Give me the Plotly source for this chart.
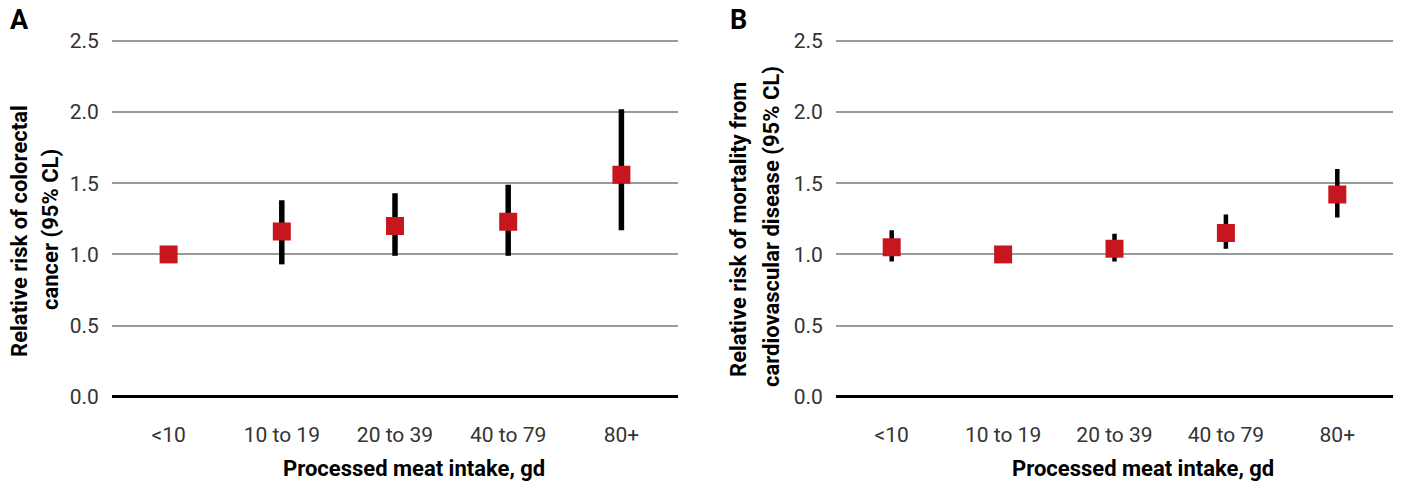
import plotly.graph_objects as go

categories = ["<10", "10 to 19", "20 to 39", "40 to 79", "80+"]

# Panel A: colorectal cancer
crc_rr = [1.00, 1.16, 1.20, 1.23, 1.56]
crc_lo = [1.00, 0.93, 0.99, 0.99, 1.17]
crc_hi = [1.00, 1.38, 1.43, 1.49, 2.02]

# Panel B: cardiovascular mortality
cvd_rr = [1.05, 1.00, 1.04, 1.15, 1.42]
cvd_lo = [0.95, 1.00, 0.95, 1.04, 1.26]
cvd_hi = [1.17, 1.00, 1.145, 1.28, 1.60]

y_ticks = [0.0, 0.5, 1.0, 1.5, 2.0, 2.5]
y_ticktext = ["0.0", "0.5", "1.0", "1.5", "2.0", "2.5"]

W, H = 1406, 490
RED = "#c8161e"
TICKFONT = "Roboto, sans-serif"
BOLDFONT = "Roboto, sans-serif"

fig = go.Figure()

def add_panel(rr, lo, hi, xa, ya, thick):
    plus = [h - r for h, r in zip(hi, rr)]
    minus = [r - l for r, l in zip(rr, lo)]
    fig.add_trace(go.Scatter(
        x=categories, y=rr, mode="markers", xaxis=xa, yaxis=ya,
        marker=dict(symbol="square", size=18, color=RED, line=dict(width=0)),
        error_y=dict(type="data", array=plus, arrayminus=minus, symmetric=False,
                     color="black", thickness=thick, width=0),
        showlegend=False, hoverinfo="skip"))

add_panel(crc_rr, crc_lo, crc_hi, "x", "y", 5.5)
add_panel(cvd_rr, cvd_lo, cvd_hi, "x2", "y2", 4.5)

# pixel geometry: value 0 at y=402, value 2.5 at y=35
pad = 0.03
ppu = (402 - 35) / 2.5
ydom = [1 - (402 + pad * ppu) / H, 1 - (35 - pad * ppu) / H]
yrange = [-pad, 2.5 + pad]

def xaxis(dom, anchor):
    return dict(domain=dom, anchor=anchor, range=[-0.5, 4.5], showgrid=False,
                zeroline=False, showline=False, ticks="outside", ticklen=15,
                tickcolor="rgba(0,0,0,0)",
                tickfont=dict(family=TICKFONT, size=21, color="#333333"))

def yaxis(anchor):
    return dict(domain=ydom, anchor=anchor, range=yrange, tickvals=y_ticks,
                ticktext=y_ticktext, showgrid=True, gridcolor="#9a9a9a",
                gridwidth=2, zeroline=True, zerolinecolor="black",
                zerolinewidth=3, showline=False, ticks="outside", ticklen=8,
                tickcolor="rgba(0,0,0,0)",
                tickfont=dict(family=TICKFONT, size=21, color="#333333"))

fig.update_layout(
    width=W, height=H, margin=dict(l=0, r=0, t=0, b=0),
    paper_bgcolor="white", plot_bgcolor="white",
    xaxis=xaxis([112 / W, 678 / W], "y"),
    yaxis=yaxis("x"),
    xaxis2=xaxis([836 / W, 1393 / W], "y2"),
    yaxis2=yaxis("x2"),
)

def ann(text, x, y, size, angle=0, bold=True):
    fig.add_annotation(text=f"<b>{text}</b>" if bold else text,
                       xref="paper", yref="paper", x=x / W, y=1 - y / H,
                       xanchor="center", yanchor="middle", showarrow=False,
                       textangle=angle,
                       font=dict(family=BOLDFONT, size=size, color="black"))

ann("A", 19, 13, 27)
ann("B", 738, 13, 27)
ann("Processed meat intake, gd", 414, 476, 22)
ann("Processed meat intake, gd", 1143, 476, 22)
ann("Relative risk of colorectal", 20, 231, 22, angle=-90)
ann("cancer (95% CL)", 51, 230, 22, angle=-90)
ann("Relative risk of mortality from", 739, 230, 22, angle=-90)
ann("cardiovascular disease (95% CL)", 771, 227, 22, angle=-90)

fig.write_html("out.html")
